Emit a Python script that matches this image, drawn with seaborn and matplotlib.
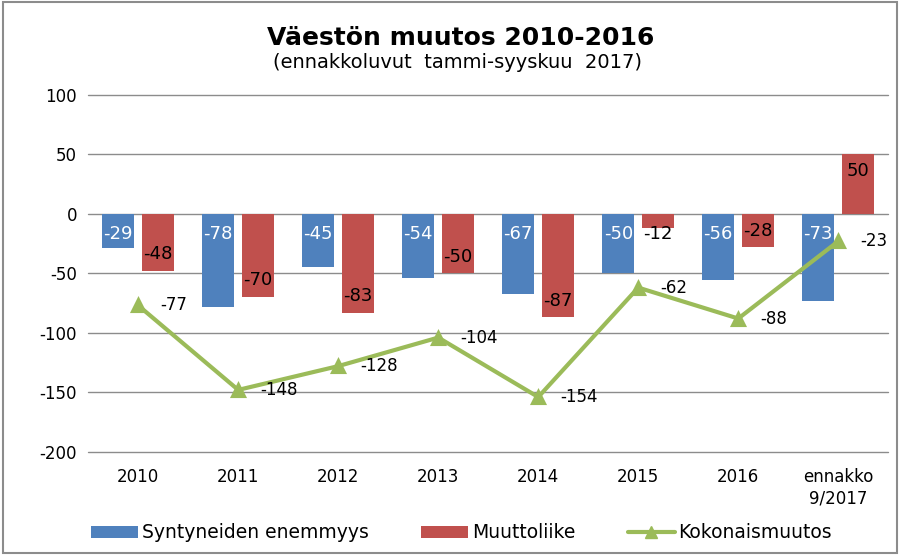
import matplotlib
matplotlib.use("Agg")
import matplotlib.pyplot as plt
import seaborn as sns
import pandas as pd
from matplotlib.patches import Patch, Rectangle
from matplotlib.lines import Line2D

categories = ["2010", "2011", "2012", "2013", "2014", "2015", "2016", "ennakko\n9/2017"]
syntyneet = [-29, -78, -45, -54, -67, -50, -56, -73]
muuttoliike = [-48, -70, -83, -50, -87, -12, -28, 50]
kokonais = [-77, -148, -128, -104, -154, -62, -88, -23]

BLUE = "#4F81BD"
RED = "#C0504D"
GREEN = "#9BBB59"

sns.set_theme(style="white")
plt.rcParams["font.family"] = ["DejaVu Sans"]
plt.rcParams["axes.unicode_minus"] = False
plt.rcParams["text.color"] = "black"

df = pd.DataFrame({
    "vuosi": categories * 2,
    "arvo": syntyneet + muuttoliike,
    "sarja": ["Syntyneiden enemmyys"] * len(categories) + ["Muuttoliike"] * len(categories),
})

fig = plt.figure(figsize=(9, 5.55), dpi=100)
ax = fig.add_axes([0.098, 0.186, 0.889, 0.643])

sns.barplot(
    data=df, x="vuosi", y="arvo", hue="sarja",
    palette=[BLUE, RED], width=0.8, gap=0.2, linewidth=0,
    saturation=1, legend=False, ax=ax, zorder=3,
)
sns.pointplot(
    x=categories, y=kokonais, color=GREEN, markers="^",
    markersize=8, linewidth=3, ax=ax, zorder=4,
)

ax.set_ylim(-200, 100)
ax.set_xlim(-0.5, len(categories) - 0.5)
ax.set_yticks(range(-200, 101, 50))
ax.yaxis.grid(True, color="#8c8c8c", linewidth=1)
for gl in ax.get_ygridlines():
    gl.set_clip_on(False)
ax.set_axisbelow(True)
for s in ax.spines.values():
    s.set_visible(False)
ax.tick_params(length=0, labelsize=12, colors="black")
ax.tick_params(axis="x", pad=12)
ax.tick_params(axis="y", pad=8)
ax.set_xlabel("")
ax.set_ylabel("")

# bar value labels
for i, v in enumerate(syntyneet):
    ax.text(i - 0.2, -17, f"{v}", ha="center", va="center",
            color="white", fontsize=13, zorder=5)
for i, v in enumerate(muuttoliike):
    if abs(v) < 20:
        y = v - 5
    else:
        y = v - 14 * (1 if v > 0 else -1)
    ax.text(i + 0.2, y, f"{v}", ha="center", va="center",
            color="black", fontsize=13, zorder=5)
for i, v in enumerate(kokonais):
    ax.annotate(f"{v}", (i, v), xytext=(16, 0), textcoords="offset points",
                ha="left", va="center", fontsize=12, color="black", zorder=5)

fig.text(0.512, 0.932, "Väestön muutos 2010-2016", ha="center", va="center",
         fontsize=18, fontweight="bold", color="black")
fig.text(0.508, 0.888, "(ennakkoluvut  tammi-syyskuu  2017)", ha="center",
         va="center", fontsize=14, color="black")

handles = [
    Patch(facecolor=BLUE, edgecolor="none"),
    Patch(facecolor=RED, edgecolor="none"),
    Line2D([0], [0], color=GREEN, linewidth=3, marker="^", markersize=8),
]
labels = ["Syntyneiden enemmyys", "Muuttoliike", "Kokonaismuutos"]
fig.legend(handles, labels, loc="center", bbox_to_anchor=(0.513, 0.04), ncol=3,
           frameon=False, fontsize=13.5, handlelength=2.5, handleheight=0.6,
           handletextpad=0.2, columnspacing=2.8)

fig.patches.append(Rectangle((0.003, 0.003), 0.994, 0.994, transform=fig.transFigure,
                             fill=False, edgecolor="#8c8c8c", linewidth=1.5))

fig.savefig("out.png", dpi=100)
